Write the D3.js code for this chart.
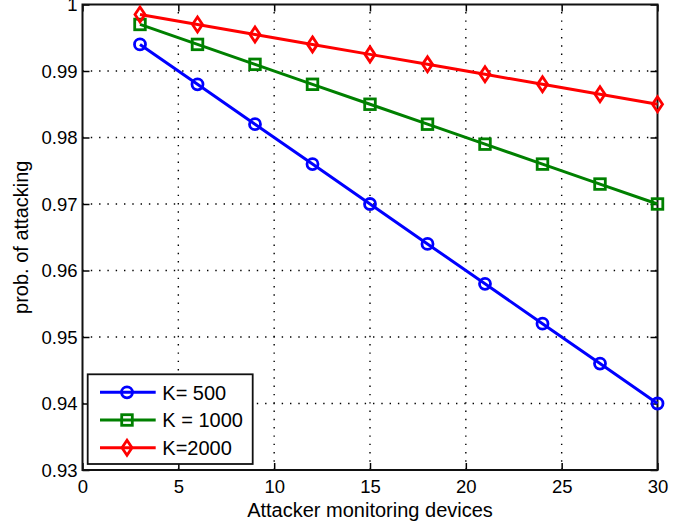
<!DOCTYPE html>
<html>
<head>
<meta charset="utf-8">
<script src="https://cdn.jsdelivr.net/npm/d3@7"></script>
<style>
  html, body { margin: 0; padding: 0; background: #fff; }
  svg { display: block; font-family: "Liberation Sans", Arial, Helvetica, sans-serif; }
</style>
</head>
<body>
<svg id="chart" width="697" height="529"></svg>
<script>
// Attacker monitoring devices (x values)
const devices = [3, 6, 9, 12, 15, 18, 21, 24, 27, 30];
// Probability of attacking for each K
const k500  = [0.994, 0.988, 0.982, 0.976, 0.970, 0.964, 0.958, 0.952, 0.946, 0.940];
const k1000 = [0.997, 0.994, 0.991, 0.988, 0.985, 0.982, 0.979, 0.976, 0.973, 0.970];
const k2000 = [0.9985, 0.997, 0.9955, 0.994, 0.9925, 0.991, 0.9895, 0.988, 0.9865, 0.985];
const seriesNames = ["K= 500", "K = 1000", "K=2000"];
const xTicks = [0, 5, 10, 15, 20, 25, 30];
const yTicks = [0.93, 0.94, 0.95, 0.96, 0.97, 0.98, 0.99, 1];

const series = [
  { name: seriesNames[0], values: k500,  color: "#0000ff", marker: "circle" },
  { name: seriesNames[1], values: k1000, color: "#008000", marker: "square" },
  { name: seriesNames[2], values: k2000, color: "#ff0000", marker: "diamond" }
];

const svg = d3.select("#chart");
const L = 82.5, R = 657.5, T = 4.5, B = 470;
const x = d3.scaleLinear().domain([0, 30]).range([L, R]);
const y = d3.scaleLinear().domain([0.93, 1]).range([B, T]);

// dotted grid
const grid = svg.append("g").attr("stroke", "#000").attr("stroke-width", 1.4)
  .attr("stroke-dasharray", "1.4,6.9").attr("fill", "none");
xTicks.filter(v => v > 0 && v < 30).forEach(v => {
  grid.append("line").attr("x1", x(v)).attr("x2", x(v)).attr("y1", B).attr("y2", T);
});
yTicks.filter(v => v > 0.93 && v < 1).forEach(v => {
  grid.append("line").attr("x1", L).attr("x2", R).attr("y1", y(v)).attr("y2", y(v));
});

// axes with inward ticks, mirrored on top and right
const fmtY = d => (d === 1 ? "1" : d3.format(".2f")(d));
const tl = 7;
const axB = svg.append("g").attr("transform", `translate(0,${B})`)
  .call(d3.axisBottom(x).tickValues(xTicks).tickSizeInner(-tl).tickSizeOuter(0).tickPadding(12).tickFormat(d3.format("d")));
const axL = svg.append("g").attr("transform", `translate(${L},0)`)
  .call(d3.axisLeft(y).tickValues(yTicks).tickSizeInner(-tl).tickSizeOuter(0).tickPadding(12).tickFormat(fmtY));
const axT = svg.append("g").attr("transform", `translate(0,${T})`)
  .call(d3.axisTop(x).tickValues(xTicks).tickSizeInner(-tl).tickSizeOuter(0).tickFormat(""));
const axR = svg.append("g").attr("transform", `translate(${R},0)`)
  .call(d3.axisRight(y).tickValues(yTicks).tickSizeInner(-tl).tickSizeOuter(0).tickFormat(""));
[axB, axL, axT, axR].forEach(a => {
  a.select(".domain").remove();
  a.selectAll(".tick line").attr("stroke", "#000").attr("stroke-width", 1.5);
  a.selectAll("text").attr("fill", "#000").style("font-size", "18.5px")
    .style("font-family", "'Liberation Sans', Arial, Helvetica, sans-serif");
});
axB.selectAll("text").attr("dy", "0.71em").attr("y", 10);
axL.selectAll("text").attr("x", -5).attr("dy", "0.35em");

// box
svg.append("rect").attr("x", L).attr("y", T).attr("width", R - L).attr("height", B - T)
  .attr("fill", "none").attr("stroke", "#111").attr("stroke-width", 2);

// marker drawing
function drawMarker(g, type, cx, cy, color) {
  if (type === "circle") {
    g.append("circle").attr("cx", cx).attr("cy", cy).attr("r", 5.5)
      .attr("fill", "none").attr("stroke", color).attr("stroke-width", 2.8);
  } else if (type === "square") {
    g.append("rect").attr("x", cx - 5.3).attr("y", cy - 5.3).attr("width", 10.6).attr("height", 10.6)
      .attr("fill", "none").attr("stroke", color).attr("stroke-width", 2.8);
  } else {
    g.append("path").attr("d", `M${cx},${cy - 7.5}L${cx + 5},${cy}L${cx},${cy + 7.5}L${cx - 5},${cy}Z`)
      .attr("fill", "none").attr("stroke", color).attr("stroke-width", 2.8);
  }
}

const line = d3.line().x((d, i) => x(devices[i])).y(d => y(d));
series.forEach(s => {
  const g = svg.append("g");
  g.append("path").datum(s.values).attr("d", line)
    .attr("fill", "none").attr("stroke", s.color).attr("stroke-width", 3)
    .attr("stroke-linejoin", "round");
  s.values.forEach((v, i) => drawMarker(g, s.marker, x(devices[i]), y(v), s.color));
});

// axis labels
svg.append("text").attr("x", (L + R) / 2).attr("y", 516.5).attr("text-anchor", "middle")
  .style("font-size", "20px").attr("fill", "#000").text("Attacker monitoring devices");
svg.append("text").attr("transform", `translate(28,${(T + B) / 2}) rotate(-90)`)
  .attr("text-anchor", "middle").style("font-size", "20px").attr("fill", "#000").text("prob. of attacking");

// legend
const lg = svg.append("g");
lg.append("rect").attr("x", 87.7).attr("y", 374.3).attr("width", 165).attr("height", 89.7)
  .attr("fill", "#fff").attr("stroke", "#111").attr("stroke-width", 1.8);
const rowY = [392.3, 420, 447.7];
series.forEach((s, i) => {
  lg.append("line").attr("x1", 100).attr("x2", 155.7).attr("y1", rowY[i]).attr("y2", rowY[i])
    .attr("stroke", s.color).attr("stroke-width", 3);
  drawMarker(lg, s.marker, 127, rowY[i], s.color);
  lg.append("text").attr("x", 162.3).attr("y", rowY[i]).attr("dy", "0.36em")
    .style("font-size", "20px").attr("fill", "#000").text(s.name);
});
</script>
</body>
</html>
